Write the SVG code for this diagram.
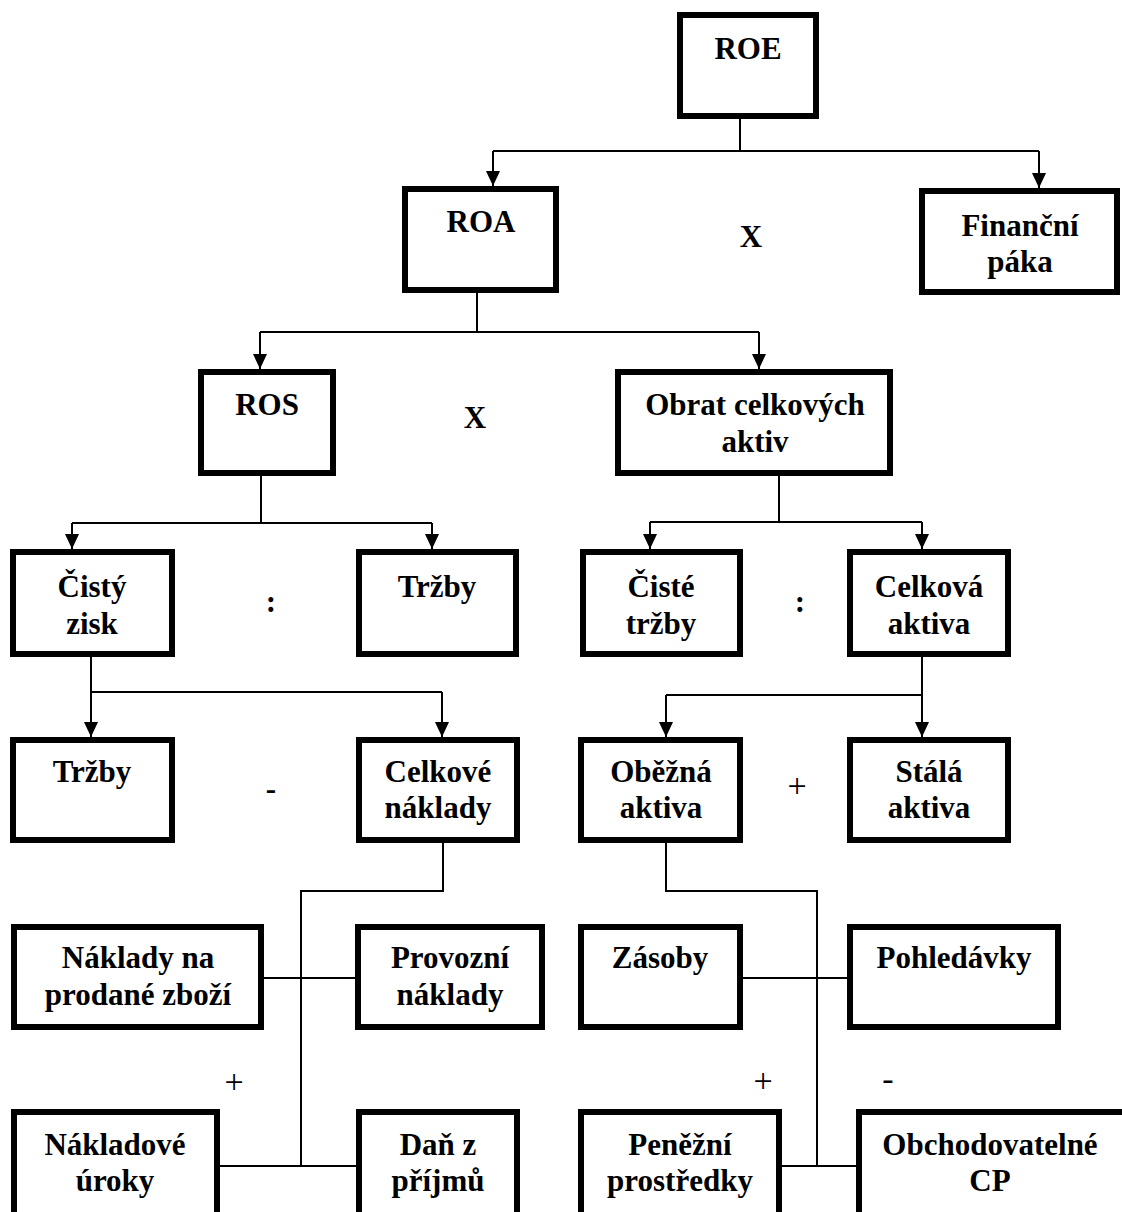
<svg xmlns="http://www.w3.org/2000/svg" width="1122" height="1212" viewBox="0 0 1122 1212">
<style>
.box{fill:#fff;stroke:#000;stroke-width:6}
.t{font-family:"Liberation Serif","Times New Roman",serif;font-weight:bold;font-size:31px;text-anchor:middle;fill:#000}
.op{font-family:"Liberation Serif","Times New Roman",serif;font-weight:bold;font-size:31px;text-anchor:middle;fill:#000}
.opr{font-family:"Liberation Serif","Times New Roman",serif;font-weight:normal;font-size:34px;text-anchor:middle;fill:#000}
.ln{fill:none;stroke:#000;stroke-width:2}
</style>
<defs>
<marker id="ah" markerUnits="userSpaceOnUse" markerWidth="16" markerHeight="16" viewBox="0 0 16 16" refX="15" refY="8" orient="auto">
<path d="M0,1 L15,8 L0,15 Z" fill="#000"/>
</marker>
</defs>
<rect width="1122" height="1212" fill="#fff"/>
<g id="connectors">
<path class="ln" d="M740,119 V151 M493,151 H1039"/>
<path class="ln" d="M493,151 V186" marker-end="url(#ah)"/>
<path class="ln" d="M1039,151 V188" marker-end="url(#ah)"/>
<path class="ln" d="M477,293 V332 M260,332 H759"/>
<path class="ln" d="M260,332 V369" marker-end="url(#ah)"/>
<path class="ln" d="M759,332 V369" marker-end="url(#ah)"/>
<path class="ln" d="M261,476 V523 M72,523 H432"/>
<path class="ln" d="M72,523 V549" marker-end="url(#ah)"/>
<path class="ln" d="M432,523 V549" marker-end="url(#ah)"/>
<path class="ln" d="M779,476 V522 M650,522 H922"/>
<path class="ln" d="M650,522 V549" marker-end="url(#ah)"/>
<path class="ln" d="M922,522 V549" marker-end="url(#ah)"/>
<path class="ln" d="M91,657 V737" marker-end="url(#ah)"/>
<path class="ln" d="M91,692 H442"/>
<path class="ln" d="M442,692 V737" marker-end="url(#ah)"/>
<path class="ln" d="M922,657 V737" marker-end="url(#ah)"/>
<path class="ln" d="M666,695 H922"/>
<path class="ln" d="M666,695 V737" marker-end="url(#ah)"/>
<path class="ln" d="M443,843 V891 H301 V1166"/>
<path class="ln" d="M264,978 H355"/>
<path class="ln" d="M220,1166 H356"/>
<path class="ln" d="M666,843 V891 H817 V1166"/>
<path class="ln" d="M743,978 H847"/>
<path class="ln" d="M782,1166 H856"/>
</g>
<g id="roe"><rect class="box" x="680" y="15" width="136" height="101"/><text class="t" x="748" y="59">ROE</text></g>
<g id="roa"><rect class="box" x="405" y="189" width="151" height="101"/><text class="t" x="481" y="232">ROA</text></g>
<g id="financni-paka"><rect class="box" x="922" y="191" width="195" height="101"/><text class="t" x="1020" y="236">Finanční</text><text class="t" x="1020" y="272">páka</text></g>
<g id="ros"><rect class="box" x="201" y="372" width="132" height="101"/><text class="t" x="267" y="415">ROS</text></g>
<g id="obrat"><rect class="box" x="618" y="372" width="272" height="101"/><text class="t" x="755" y="415">Obrat celkových</text><text class="t" x="755" y="452">aktiv</text></g>
<g id="cisty-zisk"><rect class="box" x="13" y="552" width="159" height="102"/><text class="t" x="92" y="597">Čistý</text><text class="t" x="92" y="634">zisk</text></g>
<g id="trzby1"><rect class="box" x="359" y="552" width="157" height="102"/><text class="t" x="437" y="597">Tržby</text></g>
<g id="ciste-trzby"><rect class="box" x="583" y="552" width="157" height="102"/><text class="t" x="661" y="597">Čisté</text><text class="t" x="661" y="634">tržby</text></g>
<g id="celkova-aktiva"><rect class="box" x="850" y="552" width="158" height="102"/><text class="t" x="929" y="597">Celková</text><text class="t" x="929" y="634">aktiva</text></g>
<g id="trzby2"><rect class="box" x="13" y="740" width="159" height="100"/><text class="t" x="92" y="782">Tržby</text></g>
<g id="celkove-naklady"><rect class="box" x="359" y="740" width="158" height="100"/><text class="t" x="438" y="782">Celkové</text><text class="t" x="438" y="818">náklady</text></g>
<g id="obezna-aktiva"><rect class="box" x="581" y="740" width="159" height="100"/><text class="t" x="661" y="782">Oběžná</text><text class="t" x="661" y="818">aktiva</text></g>
<g id="stala-aktiva"><rect class="box" x="850" y="740" width="158" height="100"/><text class="t" x="929" y="782">Stálá</text><text class="t" x="929" y="818">aktiva</text></g>
<g id="naklady-na-prodane-zbozi"><rect class="box" x="14" y="927" width="247" height="100"/><text class="t" x="138" y="968">Náklady na</text><text class="t" x="138" y="1005">prodané zboží</text></g>
<g id="provozni-naklady"><rect class="box" x="358" y="927" width="184" height="100"/><text class="t" x="450" y="968">Provozní</text><text class="t" x="450" y="1005">náklady</text></g>
<g id="zasoby"><rect class="box" x="581" y="927" width="159" height="100"/><text class="t" x="660" y="968">Zásoby</text></g>
<g id="pohledavky"><rect class="box" x="850" y="927" width="208" height="100"/><text class="t" x="954" y="968">Pohledávky</text></g>
<g id="nakladove-uroky"><rect class="box" x="14" y="1112" width="203" height="110"/><text class="t" x="115" y="1155">Nákladové</text><text class="t" x="115" y="1191">úroky</text></g>
<g id="dan-z-prijmu"><rect class="box" x="359" y="1112" width="158" height="110"/><text class="t" x="438" y="1155">Daň z</text><text class="t" x="438" y="1191">příjmů</text></g>
<g id="penezni-prostredky"><rect class="box" x="581" y="1112" width="198" height="110"/><text class="t" x="680" y="1155">Peněžní</text><text class="t" x="680" y="1191">prostředky</text></g>
<g id="obchodovatelne-cp"><rect class="box" x="859" y="1112" width="280" height="110"/><text class="t" x="990" y="1155">Obchodovatelné</text><text class="t" x="990" y="1191">CP</text></g>
<g id="operators">
<text class="op" x="751" y="247">X</text>
<text class="op" x="475" y="428">X</text>
<text class="op" x="271" y="612">:</text>
<text class="op" x="800" y="612">:</text>
<text class="op" x="271" y="799">-</text>
<text class="opr" x="797" y="797">+</text>
<text class="opr" x="234" y="1093">+</text>
<text class="opr" x="763" y="1092">+</text>
<text class="opr" x="888" y="1090">-</text>
</g>
</svg>
